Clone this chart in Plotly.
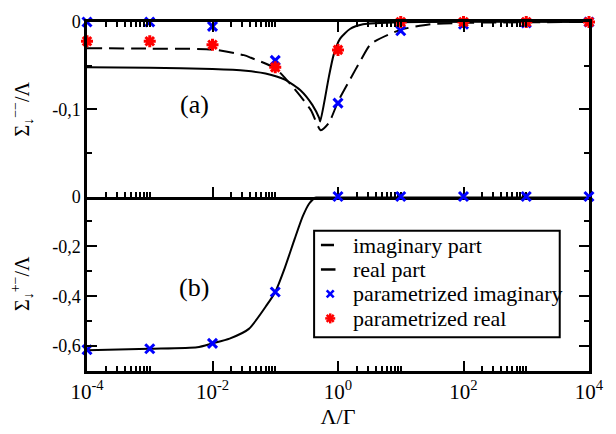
import plotly.graph_objects as go

# Lambda/Gamma grid of the parametrized points (one per decade)
lam_points = [1e-4, 1e-3, 1e-2, 1e-1, 1e0, 1e1, 1e2, 1e3, 1e4]

# Panel (a): Sigma^{--}/Lambda
param_imag_a = [0.0, 0.0, -0.005, -0.044, -0.093, -0.010, -0.0026, -0.001, 0.0]
param_real_a = [-0.022, -0.022, -0.026, -0.052, -0.032, 0.0, 0.0, 0.0, 0.0]

lam_imag_a = [1e-4, 1e-3, 1e-2, 0.0316, 0.041, 0.1, 0.204, 0.37, 0.53, 0.71,
              1.02, 1.55, 2.34, 3.35, 9.8, 30.0, 100.0, 1000.0, 1e4]
imag_a = [-0.030, -0.0305, -0.0315, -0.038, -0.041, -0.053, -0.077, -0.101,
          -0.124, -0.116, -0.090, -0.066, -0.043, -0.025, -0.009, -0.0026,
          -0.001, -0.0003, 0.0]

lam_real_a = [1e-4, 1e-3, 1e-2, 0.034, 0.07, 0.142, 0.259, 0.39, 0.50, 0.52,
              0.60, 0.71, 0.85, 1.08, 1.55, 2.5, 10.0, 1e4]
real_a = [-0.052, -0.0525, -0.054, -0.056, -0.059, -0.066, -0.079, -0.095,
          -0.110, -0.114, -0.093, -0.064, -0.038, -0.019, -0.008, -0.0026,
          -0.0003, 0.0]

# Panel (b): Sigma^{+-}/Lambda
param_imag_b = [-0.615, -0.611, -0.589, -0.383, 0.0, 0.0, 0.0, 0.0, 0.0]

lam_real_b = [1e-4, 1e-3, 0.0057, 1e-2, 0.0187, 0.038, 0.074, 0.1, 0.142,
              0.204, 0.274, 0.348, 0.44, 0.5, 1e4]
real_b = [-0.617, -0.611, -0.605, -0.589, -0.570, -0.531, -0.434, -0.383,
          -0.286, -0.170, -0.080, -0.028, -0.003, 0.0, 0.0]

# Axis ticks
x_major = [1e-4, 1e-2, 1e0, 1e2, 1e4]
x_major_text = ["10<sup>-4</sup>", "10<sup>-2</sup>", "10<sup>0</sup>",
                "10<sup>2</sup>", "10<sup>4</sup>"]
x_minor = [m * d for d in (1e-4, 1e-2, 1e0, 1e2) for m in range(2, 11)]

ya_major = [0.0, -0.1]
ya_text = ["0", "-0,1"]
ya_minor = [-0.05, -0.15]

yb_major = [0.0, -0.2, -0.4, -0.6]
yb_text = ["0", "-0,2", "-0,4", "-0,6"]
yb_minor = [-0.1, -0.3, -0.5]

# Legend entries (drawn as a boxed key inside panel (b))
legend_labels = ["imaginary part", "real part", "parametrized imaginary", "parametrized real"]

SERIF = "Liberation Serif"
DASH = "15px,7px"
BLUE, RED = "blue", "red"

fig = go.Figure()

# Panel (a)
fig.add_trace(go.Scatter(x=lam_imag_a, y=imag_a, mode="lines", name=legend_labels[0],
                         line=dict(color="black", width=2, dash=DASH, shape="spline", smoothing=0.6),
                         xaxis="x", yaxis="y", cliponaxis=False))
fig.add_trace(go.Scatter(x=lam_real_a, y=real_a, mode="lines", name=legend_labels[1],
                         line=dict(color="black", width=2, shape="spline", smoothing=0.6),
                         xaxis="x", yaxis="y", cliponaxis=False))
fig.add_trace(go.Scatter(x=lam_points, y=param_imag_a, mode="markers", name=legend_labels[2],
                         marker=dict(symbol="x-thin-open", size=9, color=BLUE,
                                     line=dict(color=BLUE, width=3)),
                         xaxis="x", yaxis="y", cliponaxis=False))
fig.add_trace(go.Scatter(x=lam_points, y=param_real_a, mode="markers", name=legend_labels[3],
                         marker=dict(symbol="asterisk-open", size=10, color=RED,
                                     line=dict(color=RED, width=3)),
                         xaxis="x", yaxis="y", cliponaxis=False))

# Panel (b)
fig.add_trace(go.Scatter(x=lam_real_b, y=real_b, mode="lines", name=legend_labels[1],
                         line=dict(color="black", width=2, shape="spline", smoothing=0.6),
                         xaxis="x2", yaxis="y2", cliponaxis=False))
fig.add_trace(go.Scatter(x=lam_points, y=param_imag_b, mode="markers", name=legend_labels[2],
                         marker=dict(symbol="x-thin-open", size=9, color=BLUE,
                                     line=dict(color=BLUE, width=3)),
                         xaxis="x2", yaxis="y2", cliponaxis=False))

axis_common = dict(showline=True, linecolor="black", linewidth=2.5, showgrid=False,
                   zeroline=False, ticks="inside", tickcolor="black", tickwidth=2,
                   ticklen=10)

x_common = dict(axis_common, type="log", range=[-4, 4], tickmode="array",
                tickvals=x_major,
                minor=dict(tickmode="array", tickvals=x_minor, ticks="inside",
                           ticklen=5, tickwidth=1.5, tickcolor="black"))

# ---- boxed key (paper coordinates of the plotting area) ----
KEY_X0, KEY_X1 = 0.4524, 0.9417
KEY_Y0, KEY_Y1 = 0.097, 0.4017
ROW_TOP, ROW_STEP = 0.361, 0.0701
SAMPLE_X0, SAMPLE_X1, SAMPLE_XC = 0.466, 0.495, 0.4845
TEXT_X = 0.526
rows = [ROW_TOP - i * ROW_STEP for i in range(len(legend_labels))]

shapes = [dict(type="rect", xref="paper", yref="paper", x0=KEY_X0, x1=KEY_X1,
               y0=KEY_Y0, y1=KEY_Y1, line=dict(color="black", width=2),
               fillcolor="white", layer="above")]
# line samples
shapes.append(dict(type="line", xref="paper", yref="paper", x0=SAMPLE_X0, x1=SAMPLE_X1 - 0.003,
                   y0=rows[0], y1=rows[0], line=dict(color="black", width=2.5), layer="above"))
shapes.append(dict(type="line", xref="paper", yref="paper", x0=SAMPLE_X0, x1=SAMPLE_X1,
                   y0=rows[1], y1=rows[1], line=dict(color="black", width=2.5), layer="above"))


def glyph_line(xc, yc, dx0, dy0, dx1, dy1, color):
    return dict(type="line", xref="paper", yref="paper", xsizemode="pixel", ysizemode="pixel",
                xanchor=xc, yanchor=yc, x0=dx0, y0=dy0, x1=dx1, y1=dy1,
                line=dict(color=color, width=2.5), layer="above")


# cross sample
shapes.append(glyph_line(SAMPLE_XC, rows[2], -3.5, -3.5, 3.5, 3.5, BLUE))
shapes.append(glyph_line(SAMPLE_XC, rows[2], -3.5, 3.5, 3.5, -3.5, BLUE))
# asterisk sample
for dx, dy in [(5, 0), (0, 5), (3.5, 3.5), (3.5, -3.5)]:
    shapes.append(glyph_line(SAMPLE_XC, rows[3], -dx, -dy, dx, dy, RED))

annotations = [
    dict(text="(a)", xref="x domain", yref="y domain", x=0.2136, y=0.53,
         xanchor="center", yanchor="middle", showarrow=False,
         font=dict(size=26, family=SERIF)),
    dict(text="(b)", xref="x2 domain", yref="y2 domain", x=0.2136, y=0.48,
         xanchor="center", yanchor="middle", showarrow=False,
         font=dict(size=26, family=SERIF)),
]
for label, yr in zip(legend_labels, rows):
    annotations.append(dict(text=label, xref="paper", yref="paper", x=TEXT_X, y=yr,
                            xanchor="left", yanchor="middle", showarrow=False,
                            font=dict(size=22, family=SERIF)))

fig.update_layout(
    width=616, height=434,
    margin=dict(l=87, r=14, t=16, b=57),
    paper_bgcolor="white", plot_bgcolor="white",
    showlegend=False,
    font=dict(family=SERIF, color="black", size=18),
    xaxis=dict(x_common, anchor="y", mirror="ticks", showticklabels=False),
    xaxis2=dict(x_common, anchor="y2", mirror=False, ticktext=x_major_text,
                tickfont=dict(size=21, family=SERIF),
                title=dict(text="Λ/Γ", font=dict(size=22, family=SERIF), standoff=3)),
    yaxis=dict(axis_common, domain=[0.5, 1], range=[-0.2, 0], mirror="ticks",
               tickmode="array", tickvals=ya_major, ticktext=ya_text,
               tickfont=dict(size=18, family=SERIF),
               minor=dict(tickmode="array", tickvals=ya_minor, ticks="inside",
                          ticklen=5, tickwidth=2, tickcolor="black"),
               title=dict(text="Σ<sub>↓</sub><sup>−−</sup>/Λ", font=dict(size=20, family=SERIF),
                          standoff=18)),
    yaxis2=dict(axis_common, domain=[0, 0.5], range=[-0.7, 0], mirror="ticks",
                tickmode="array", tickvals=yb_major, ticktext=yb_text,
                tickfont=dict(size=18, family=SERIF),
                minor=dict(tickmode="array", tickvals=yb_minor, ticks="inside",
                           ticklen=5, tickwidth=2, tickcolor="black"),
                title=dict(text="Σ<sub>↓</sub><sup>+−</sup>/Λ", font=dict(size=20, family=SERIF),
                           standoff=18)),
    shapes=shapes,
    annotations=annotations,
)

fig.write_html("out.html")
